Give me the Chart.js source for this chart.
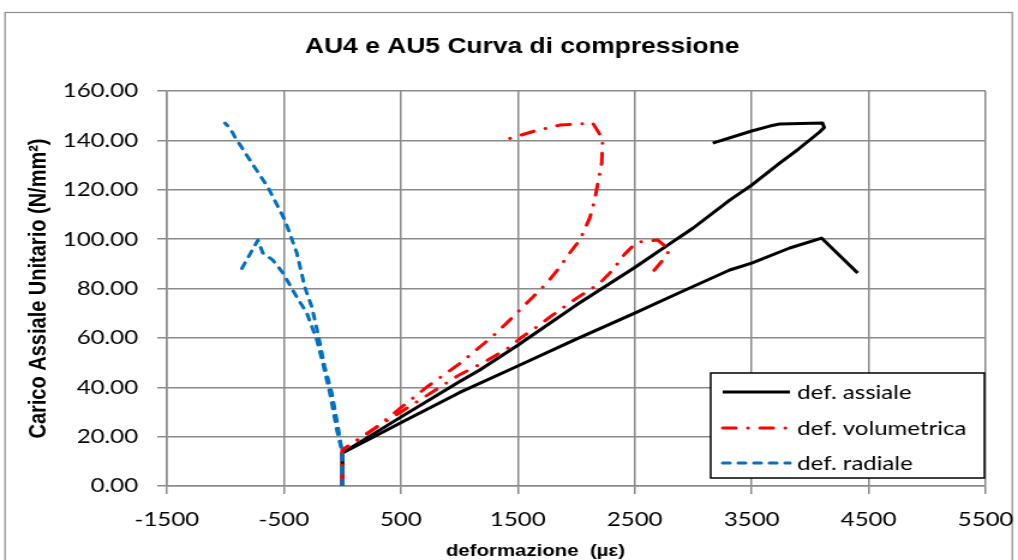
<!DOCTYPE html>
<html>
<head>
<meta charset="utf-8">
<script src="https://cdn.jsdelivr.net/npm/chart.js@4"></script>
<style>
    html, body { margin: 0; padding: 0; background: #fff; overflow: hidden; }
    /* il grafico è disegnato più stretto e poi allargato in orizzontale */
    #wrap { width: 848px; height: 560px; transform: scaleX(1.2005); transform-origin: 0 0; }
</style>
</head>
<body>
<div id="wrap"><canvas id="curva" width="848" height="560"></canvas></div>
<script>
// deformazione (µε) e carico (N/mm²) per ciascuna curva
const assiale1_def = [0, 0, 200, 500, 1000, 1175, 1500, 2000, 2500, 2820, 3000, 3312, 3500, 3739, 3900, 4081, 4120, 4105, 3739, 3654, 3500, 3167];
const assiale1_car = [0, 13.4, 19.2, 27.9, 42.2, 47, 57, 73.3, 88.5, 98.8, 104.5, 115.8, 121.9, 130.8, 136.5, 143.4, 145.2, 147, 146.6, 145.8, 143.8, 138.9];

const assiale2_def = [0, 0, 200, 500, 1000, 1500, 2000, 2500, 2885, 3312, 3500, 3825, 4098, 4406];
const assiale2_car = [0, 13.4, 18.2, 25.6, 37.8, 48.6, 59.5, 70, 78.4, 87.5, 90.3, 96.4, 100.4, 86.3];

const volumetrica1_def = [0, 0, 175, 346, 551, 722, 1000, 1175, 1278, 1414, 1517, 1628, 1756, 1859, 1944, 2030, 2115, 2158, 2184, 2218, 2226, 2141, 2004, 1859, 1645, 1414];
const volumetrica1_car = [0, 14.6, 19.8, 25.9, 33.6, 40.1, 49.5, 56.3, 60.3, 66.4, 71.3, 76.5, 82.6, 88.7, 94.4, 99.6, 108.5, 115.8, 122.7, 130.8, 140.5, 147, 146.6, 146.2, 143.8, 140.5];

const volumetrica2_def = [0, 0, 200, 500, 1000, 1244, 1432, 1534, 1662, 1799, 2004, 2115, 2218, 2312, 2415, 2517, 2697, 2799, 2740, 2654];
const volumetrica2_car = [0, 14.6, 21, 30, 45, 51, 56.3, 60.3, 64.4, 69.3, 76.1, 79.4, 83, 87.5, 94, 98.8, 99.6, 95.6, 91.5, 86.7];

const radiale1_def = [0, 0, -47, -90, -150, -210, -261, -321, -389, -491, -636, -790, -919, -961, -1004];
const radiale1_car = [0, 13.4, 26.7, 37.7, 48.2, 62, 72.5, 80.6, 94.4, 107.7, 121, 132, 141.4, 145, 147];

const radiale2_def = [0, 0, -47, -107, -167, -218, -303, -389, -508, -594, -680, -722, -876];
const radiale2_car = [0, 13.4, 22.7, 37.7, 49.8, 59.1, 70, 76.5, 86.3, 91.5, 94.4, 99.6, 86.7];

const etichetteLegenda = ['def. assiale', 'def. volumetrica', 'def. radiale'];
const titolo = 'AU4 e AU5 Curva di compressione';
const titoloX = 'deformazione  (µε)';
const titoloY = 'Carico Assiale Unitario (N/mm²)';

// stili delle tre serie
const stili = [
    { color: '#000000', dash: [] },
    { color: '#ff0000', dash: [11, 10, 0.1, 10] },
    { color: '#0070c0', dash: [6, 7] }
];

function punti(xs, ys) {
    return xs.map((x, i) => ({ x: x, y: ys[i] }));
}

function serie(xs, ys, stile) {
    return {
        data: punti(xs, ys),
        showLine: true,
        borderColor: stile.color,
        backgroundColor: stile.color,
        borderWidth: 3,
        borderDash: stile.dash,
        borderCapStyle: stile.dash.length ? 'round' : 'butt',
        borderJoinStyle: 'round',
        pointRadius: 0,
        tension: 0
    };
}

// il primo dataset viene disegnato per ultimo (sopra)
const datasets = [
    serie(radiale1_def, radiale1_car, stili[2]),
    serie(radiale2_def, radiale2_car, stili[2]),
    serie(volumetrica1_def, volumetrica1_car, stili[1]),
    serie(volumetrica2_def, volumetrica2_car, stili[1]),
    serie(assiale1_def, assiale1_car, stili[0]),
    serie(assiale2_def, assiale2_car, stili[0])
];

// sfondo, cornice esterna, titolo e titolo dell'asse x
const cornice = {
    id: 'cornice',
    beforeDraw(chart) {
        const ctx = chart.ctx;
        ctx.save();
        ctx.fillStyle = '#ffffff';
        ctx.fillRect(0, 0, chart.width, chart.height);
        ctx.strokeStyle = '#8a8a8a';
        ctx.lineWidth = 1.2;
        ctx.strokeRect(4.2, 12.5, 839, chart.height);
        ctx.restore();
    },
    afterDraw(chart) {
        const ctx = chart.ctx;
        ctx.save();
        ctx.fillStyle = '#000000';
        ctx.textAlign = 'center';
        ctx.textBaseline = 'middle';
        ctx.font = 'bold 22px "Liberation Sans"';
        ctx.fillText(titolo, 435, 47);
        ctx.font = 'bold 17px "Liberation Sans"';
        ctx.fillText(titoloX, 446, 551);
        ctx.restore();
    }
};

// legenda dentro l'area del grafico, in basso a destra
const legenda = {
    id: 'legenda',
    afterDatasetsDraw(chart) {
        const ctx = chart.ctx;
        const area = chart.chartArea;
        const left = area.right - 229;
        const right = area.right - 1;
        const top = area.bottom - 113;
        const bottom = area.bottom - 8;
        ctx.save();
        ctx.fillStyle = '#ffffff';
        ctx.fillRect(left, top, right - left, bottom - top);
        ctx.strokeStyle = '#000000';
        ctx.lineWidth = 1.5;
        ctx.strokeRect(left, top, right - left, bottom - top);
        const righe = [94, 58, 23];
        etichetteLegenda.forEach((testo, i) => {
            const y = area.bottom - righe[i];
            ctx.beginPath();
            ctx.strokeStyle = stili[i].color;
            ctx.lineWidth = 3;
            ctx.setLineDash(stili[i].dash);
            ctx.lineCap = stili[i].dash.length ? 'round' : 'butt';
            ctx.moveTo(left + 10, y);
            ctx.lineTo(left + 66, y);
            ctx.stroke();
            ctx.setLineDash([]);
            ctx.fillStyle = '#000000';
            ctx.font = '20px Lato';
            ctx.textBaseline = 'middle';
            ctx.textAlign = 'left';
            ctx.fillText(testo, left + 72, y + 1);
        });
        ctx.restore();
    }
};

new Chart(document.getElementById('curva').getContext('2d'), {
    type: 'scatter',
    data: { datasets: datasets },
    options: {
        responsive: false,
        animation: false,
        layout: { padding: { left: 0, right: 27, top: 91, bottom: 0 } },
        plugins: {
            legend: { display: false },
            tooltip: { enabled: false },
            title: { display: false }
        },
        scales: {
            x: {
                type: 'linear',
                min: -1500,
                max: 5500,
                afterFit(scale) {
                    scale.height = 74;
                    scale.paddingLeft = 0;
                    scale.paddingRight = 0;
                },
                ticks: {
                    stepSize: 1000,
                    color: '#000000',
                    font: { family: 'Lato', size: 20 },
                    padding: 14,
                    maxRotation: 0,
                    callback: v => String(v)
                },
                grid: { color: '#8a8a8a', lineWidth: 1.5, tickLength: 8 },
                border: { color: '#8a8a8a', width: 1.5 }
            },
            y: {
                min: 0,
                max: 160,
                afterFit(scale) { scale.width = 139; },
                ticks: {
                    stepSize: 20,
                    color: '#000000',
                    font: { family: 'Lato', size: 20 },
                    padding: 16,
                    callback: v => v.toFixed(2)
                },
                grid: { color: '#8a8a8a', lineWidth: 1.5, tickLength: 8 },
                border: { color: '#8a8a8a', width: 1.5 },
                title: {
                    display: true,
                    text: titoloY,
                    color: '#000000',
                    font: { family: 'Liberation Sans', size: 20, weight: 'bold' },
                    padding: { top: 20, bottom: 20 }
                }
            }
        }
    },
    plugins: [cornice, legenda]
});
</script>
</body>
</html>
